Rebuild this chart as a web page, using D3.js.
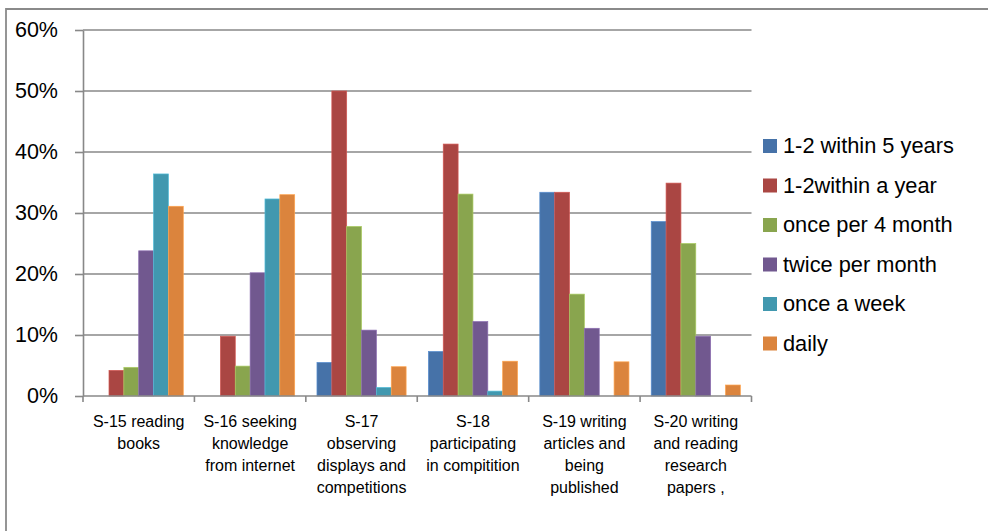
<!DOCTYPE html>
<html>
<head>
    <meta charset="utf-8">
    <title>Frequency of activities</title>
    <script src="https://d3js.org/d3.v7.min.js"></script>
    <style>
        body { margin: 0; background: #fff; }
        svg { display: block; font-family: "Liberation Sans", Arial, sans-serif; }
        .grid line { stroke: #888; stroke-width: 1.6px; }
        .axis path, .axis line { stroke: #888; stroke-width: 1.6px; }
        .axis text { fill: #000; }
    </style>
</head>
<body>
    <div id="chart"></div>
    <script>
        // categories (x axis labels, already split in lines like the original)
        const categories = ["S-15", "S-16", "S-17", "S-18", "S-19", "S-20"];
        const categoryLines = [
            ["S-15 reading", "books"],
            ["S-16 seeking", "knowledge", "from internet"],
            ["S-17", "observing", "displays and", "competitions"],
            ["S-18", "participating", "in compitition"],
            ["S-19 writing", "articles and", "being", "published"],
            ["S-20 writing", "and reading", "research", "papers ,"]
        ];

        const seriesNames = ["1-2 within 5 years", "1-2within a year", "once per 4 month",
                             "twice per month", "once a week", "daily"];
        const seriesColors = ["#4672a8", "#aa4643", "#89a54e", "#71588f", "#4198af", "#db843d"];

        // values per series, one per category
        const within5Years  = [0.000, 0.000, 0.055, 0.073, 0.334, 0.286];
        const withinYear    = [0.042, 0.098, 0.500, 0.413, 0.334, 0.349];
        const per4Month     = [0.047, 0.049, 0.278, 0.331, 0.167, 0.250];
        const twicePerMonth = [0.238, 0.202, 0.108, 0.122, 0.111, 0.098];
        const onceAWeek     = [0.364, 0.323, 0.014, 0.008, 0.000, 0.000];
        const daily         = [0.311, 0.330, 0.048, 0.057, 0.056, 0.018];

        const seriesValues = [within5Years, withinYear, per4Month, twicePerMonth, onceAWeek, daily];
        const yTicks = [0, 0.1, 0.2, 0.3, 0.4, 0.5, 0.6];

        const width = 988, height = 531;
        const plot = {left: 83, right: 751.5, top: 30, bottom: 396};

        const svg = d3.select("#chart").append("svg")
            .attr("width", width)
            .attr("height", height);

        // outer chart frame (only top/left visible)
        svg.append("path")
            .attr("d", `M6,${height} V9 H${width}`)
            .attr("fill", "none")
            .attr("stroke", "#8a8a8a")
            .attr("stroke-width", 1.8);

        const x = d3.scaleBand()
            .domain(categories)
            .range([plot.left, plot.right])
            .padding(0);

        const xInner = d3.scaleBand()
            .domain(d3.range(seriesNames.length))
            .range([0, x.bandwidth()])
            .paddingInner(0)
            .paddingOuter(0.75);

        const y = d3.scaleLinear()
            .domain([0, 0.6])
            .range([plot.bottom, plot.top]);

        // gridlines
        svg.append("g")
            .attr("class", "grid")
            .selectAll("line")
            .data(yTicks.filter(d => d > 0))
            .join("line")
            .attr("x1", plot.left)
            .attr("x2", plot.right)
            .attr("y1", d => y(d))
            .attr("y2", d => y(d));

        // bars
        const groups = svg.append("g")
            .selectAll("g")
            .data(seriesValues)
            .join("g")
            .attr("fill", (d, i) => seriesColors[i])
            .attr("stroke", (d, i) => d3.color(seriesColors[i]).brighter(0.6))
            .attr("stroke-width", 0.7);

        groups.each(function(vals, si) {
            d3.select(this).selectAll("rect")
                .data(vals.map((v, ci) => ({v, cat: categories[ci]})).filter(d => d.v > 0))
                .join("rect")
                .attr("x", d => x(d.cat) + xInner(si))
                .attr("width", xInner.bandwidth())
                .attr("y", d => y(d.v))
                .attr("height", d => y(0) - y(d.v));
        });

        // y axis
        const yAxis = svg.append("g")
            .attr("class", "axis")
            .attr("transform", `translate(${plot.left},0)`)
            .call(d3.axisLeft(y)
                .tickValues(yTicks)
                .tickFormat(d3.format(".0%"))
                .tickSize(8)
                .tickPadding(17)
                .tickSizeOuter(0));
        yAxis.selectAll("text").style("font-size", "21.5px");

        // x axis line and boundary ticks
        const xAxis = svg.append("g").attr("class", "axis");
        xAxis.append("line")
            .attr("x1", plot.left).attr("x2", plot.right)
            .attr("y1", plot.bottom).attr("y2", plot.bottom);
        const bounds = categories.map(c => x(c)).concat([x.range()[1]]);
        xAxis.selectAll(".xtick")
            .data(bounds)
            .join("line")
            .attr("class", "xtick")
            .attr("x1", d => d).attr("x2", d => d)
            .attr("y1", plot.bottom).attr("y2", plot.bottom + 6);

        // category labels
        const labels = xAxis.selectAll(".xlabel")
            .data(categories)
            .join("text")
            .attr("class", "xlabel")
            .attr("text-anchor", "middle")
            .style("font-size", "16px")
            .attr("y", 427);
        labels.each(function(c, i) {
            d3.select(this).selectAll("tspan")
                .data(categoryLines[i])
                .join("tspan")
                .attr("x", x(c) + x.bandwidth() / 2)
                .attr("dy", (d, k) => k === 0 ? 0 : 22)
                .text(d => d);
        });

        // legend
        const legend = svg.append("g")
            .attr("transform", "translate(763,139)");
        const items = legend.selectAll("g")
            .data(seriesNames)
            .join("g")
            .attr("transform", (d, i) => `translate(0,${i * 39.5})`);
        items.append("rect")
            .attr("width", 14)
            .attr("height", 14)
            .attr("fill", (d, i) => seriesColors[i]);
        items.append("text")
            .attr("x", 20)
            .attr("y", 14)
            .style("font-size", "21.8px")
            .text(d => d);
    </script>
</body>
</html>
